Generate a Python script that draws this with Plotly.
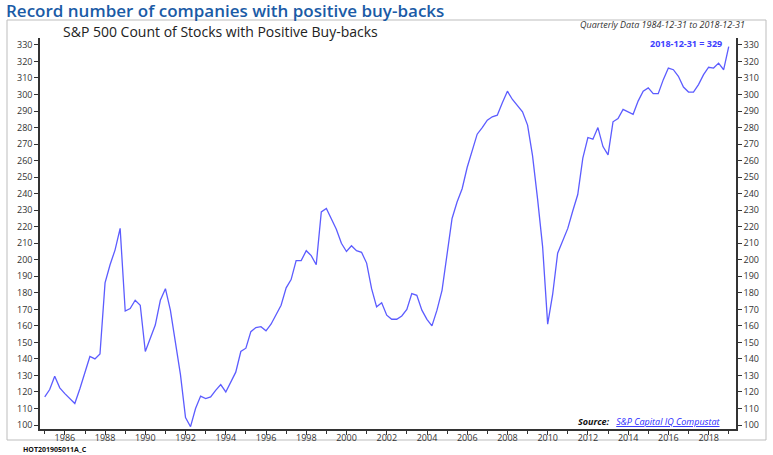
import plotly.graph_objects as go

# Quarterly data 1984-12-31 .. 2018-12-31
dates = ["1984-12-31"] + [f"{y}-{md}" for y in range(1985, 2019)
                          for md in ("03-31", "06-30", "09-30", "12-31")]
values = [
    117, 121.5, 129.5, 122.5, 119, 116, 113, 122, 132, 141.5,
    140, 143, 186, 197, 206, 219, 169, 170.5, 175.5, 172.5,
    144.5, 152, 160.5, 175.5, 182.5, 169.5, 150.5, 130.5, 104.5, 99,
    110, 117.5, 116, 117, 121, 124.5, 120, 126, 132, 144.5,
    146.5, 156.5, 159, 159.5, 157, 161, 166.5, 172.5, 183, 188,
    199.5, 199.5, 205.5, 202.5, 197, 229, 231, 225, 218.5, 210,
    205, 208.5, 205.5, 204.5, 198, 182.5, 171.5, 174, 166.5, 164,
    164, 166, 170, 179.5, 178.5, 169.5, 164, 160, 169.5, 181.5,
    204, 225, 235, 243, 256, 266.5, 276, 280, 284.5, 286.5,
    287.5, 295, 302, 297, 293, 289.5, 281.5, 263, 237, 208,
    161, 179, 204, 211, 219, 229.5, 239.5, 261.5, 274, 273,
    280, 268.5, 263.5, 283.5, 285.5, 291, 289.5, 288, 296, 302,
    304, 300.5, 300.5, 309, 316, 315, 311, 304.5, 301.5, 301.5,
    306, 312, 316.5, 316, 319, 315, 329,
]
year_ticks = list(range(1986, 2019, 2))
y_ticks = list(range(100, 331, 10))

W, H = 773, 455
L, R, T, B = 40, 736, 38, 429


def px(x):
    return (x - L) / (R - L)


def py(y):
    return (B - y) / (B - T)


fig = go.Figure()
fig.add_trace(go.Scatter(x=dates, y=values, mode="lines",
                         line=dict(color="#5c5cff", width=1.3),
                         hoverinfo="x+y", showlegend=False))
fig.add_trace(go.Scatter(x=dates, y=values, mode="lines", yaxis="y2",
                         line=dict(color="rgba(0,0,0,0)", width=0),
                         hoverinfo="skip", showlegend=False))

tick_font = dict(family="Open Sans, sans-serif", size=9, color="#333333")
yrange = [97.6, 334.2]
axis_common = dict(showgrid=False, zeroline=False, showline=True,
                   linecolor="#333333", linewidth=1.5, ticks="outside",
                   ticklen=4, tickcolor="#333333", tickfont=tick_font,
                   automargin=False)

fig.update_layout(
    width=W, height=H, autosize=False,
    margin=dict(l=L, r=W - R, t=T, b=H - B, autoexpand=False),
    paper_bgcolor="white", plot_bgcolor="white",
    xaxis=dict(type="date", range=["1984-10-06", "2019-05-12"],
               tickvals=[f"{y}-01-01" for y in year_ticks],
               ticktext=[str(y) for y in year_ticks],
               minor=dict(tickvals=[f"{y}-01-01" for y in range(1985, 2020)],
                          ticks="outside", ticklen=3, tickcolor="#333333"),
               ticklabelstandoff=-5,
               **axis_common),
    yaxis=dict(range=yrange, tickvals=y_ticks, **axis_common),
    yaxis2=dict(range=yrange, tickvals=y_ticks, overlaying="y", side="right",
                **axis_common),
)

# outer box
fig.add_shape(type="rect", xref="paper", yref="paper",
              x0=px(7), x1=px(766), y0=py(440), y1=py(20),
              line=dict(color="#bdbdbd", width=1), layer="below")

ann_font = "Open Sans, sans-serif"
fig.add_annotation(xref="paper", yref="paper", x=px(4), y=py(10),
                   xanchor="left", yanchor="middle", showarrow=False,
                   text="Record number of companies with positive buy-backs",
                   font=dict(family=ann_font, size=17, color="#1a5ba6",
                             weight=600))
fig.add_annotation(xref="paper", yref="paper", x=px(220), y=py(31),
                   xanchor="center", yanchor="middle", showarrow=False,
                   text="S&P 500 Count of Stocks with Positive Buy-backs",
                   font=dict(family=ann_font, size=14, color="#222222",
                             weight=500))
fig.add_annotation(xref="paper", yref="paper", x=px(747), y=py(24),
                   xanchor="right", yanchor="middle", showarrow=False,
                   text=f"<i>Quarterly Data {dates[0]} to {dates[-1]}</i>",
                   font=dict(family=ann_font, size=9, color="#333333"))
fig.add_annotation(xref="paper", yref="paper", x=px(724), y=py(43),
                   xanchor="right", yanchor="middle", showarrow=False,
                   text=f"<b>{dates[-1]} = {values[-1]:g}</b>",
                   font=dict(family=ann_font, size=9, color="#4040ff"))
fig.add_annotation(xref="paper", yref="paper", x=px(723), y=py(421),
                   xanchor="right", yanchor="middle", showarrow=False,
                   text="<b><i>Source:</i></b>   <span style='color:#2a2aff'><i><u>S&amp;P Capital IQ Compustat</u></i></span>",
                   font=dict(family=ann_font, size=9, color="#111111"))
fig.add_annotation(xref="paper", yref="paper", x=px(21), y=py(449),
                   xanchor="left", yanchor="middle", showarrow=False,
                   text="<b>HOT201905011A_C</b>",
                   font=dict(family=ann_font, size=7, color="#111111"))

fig.write_html("out.html")
